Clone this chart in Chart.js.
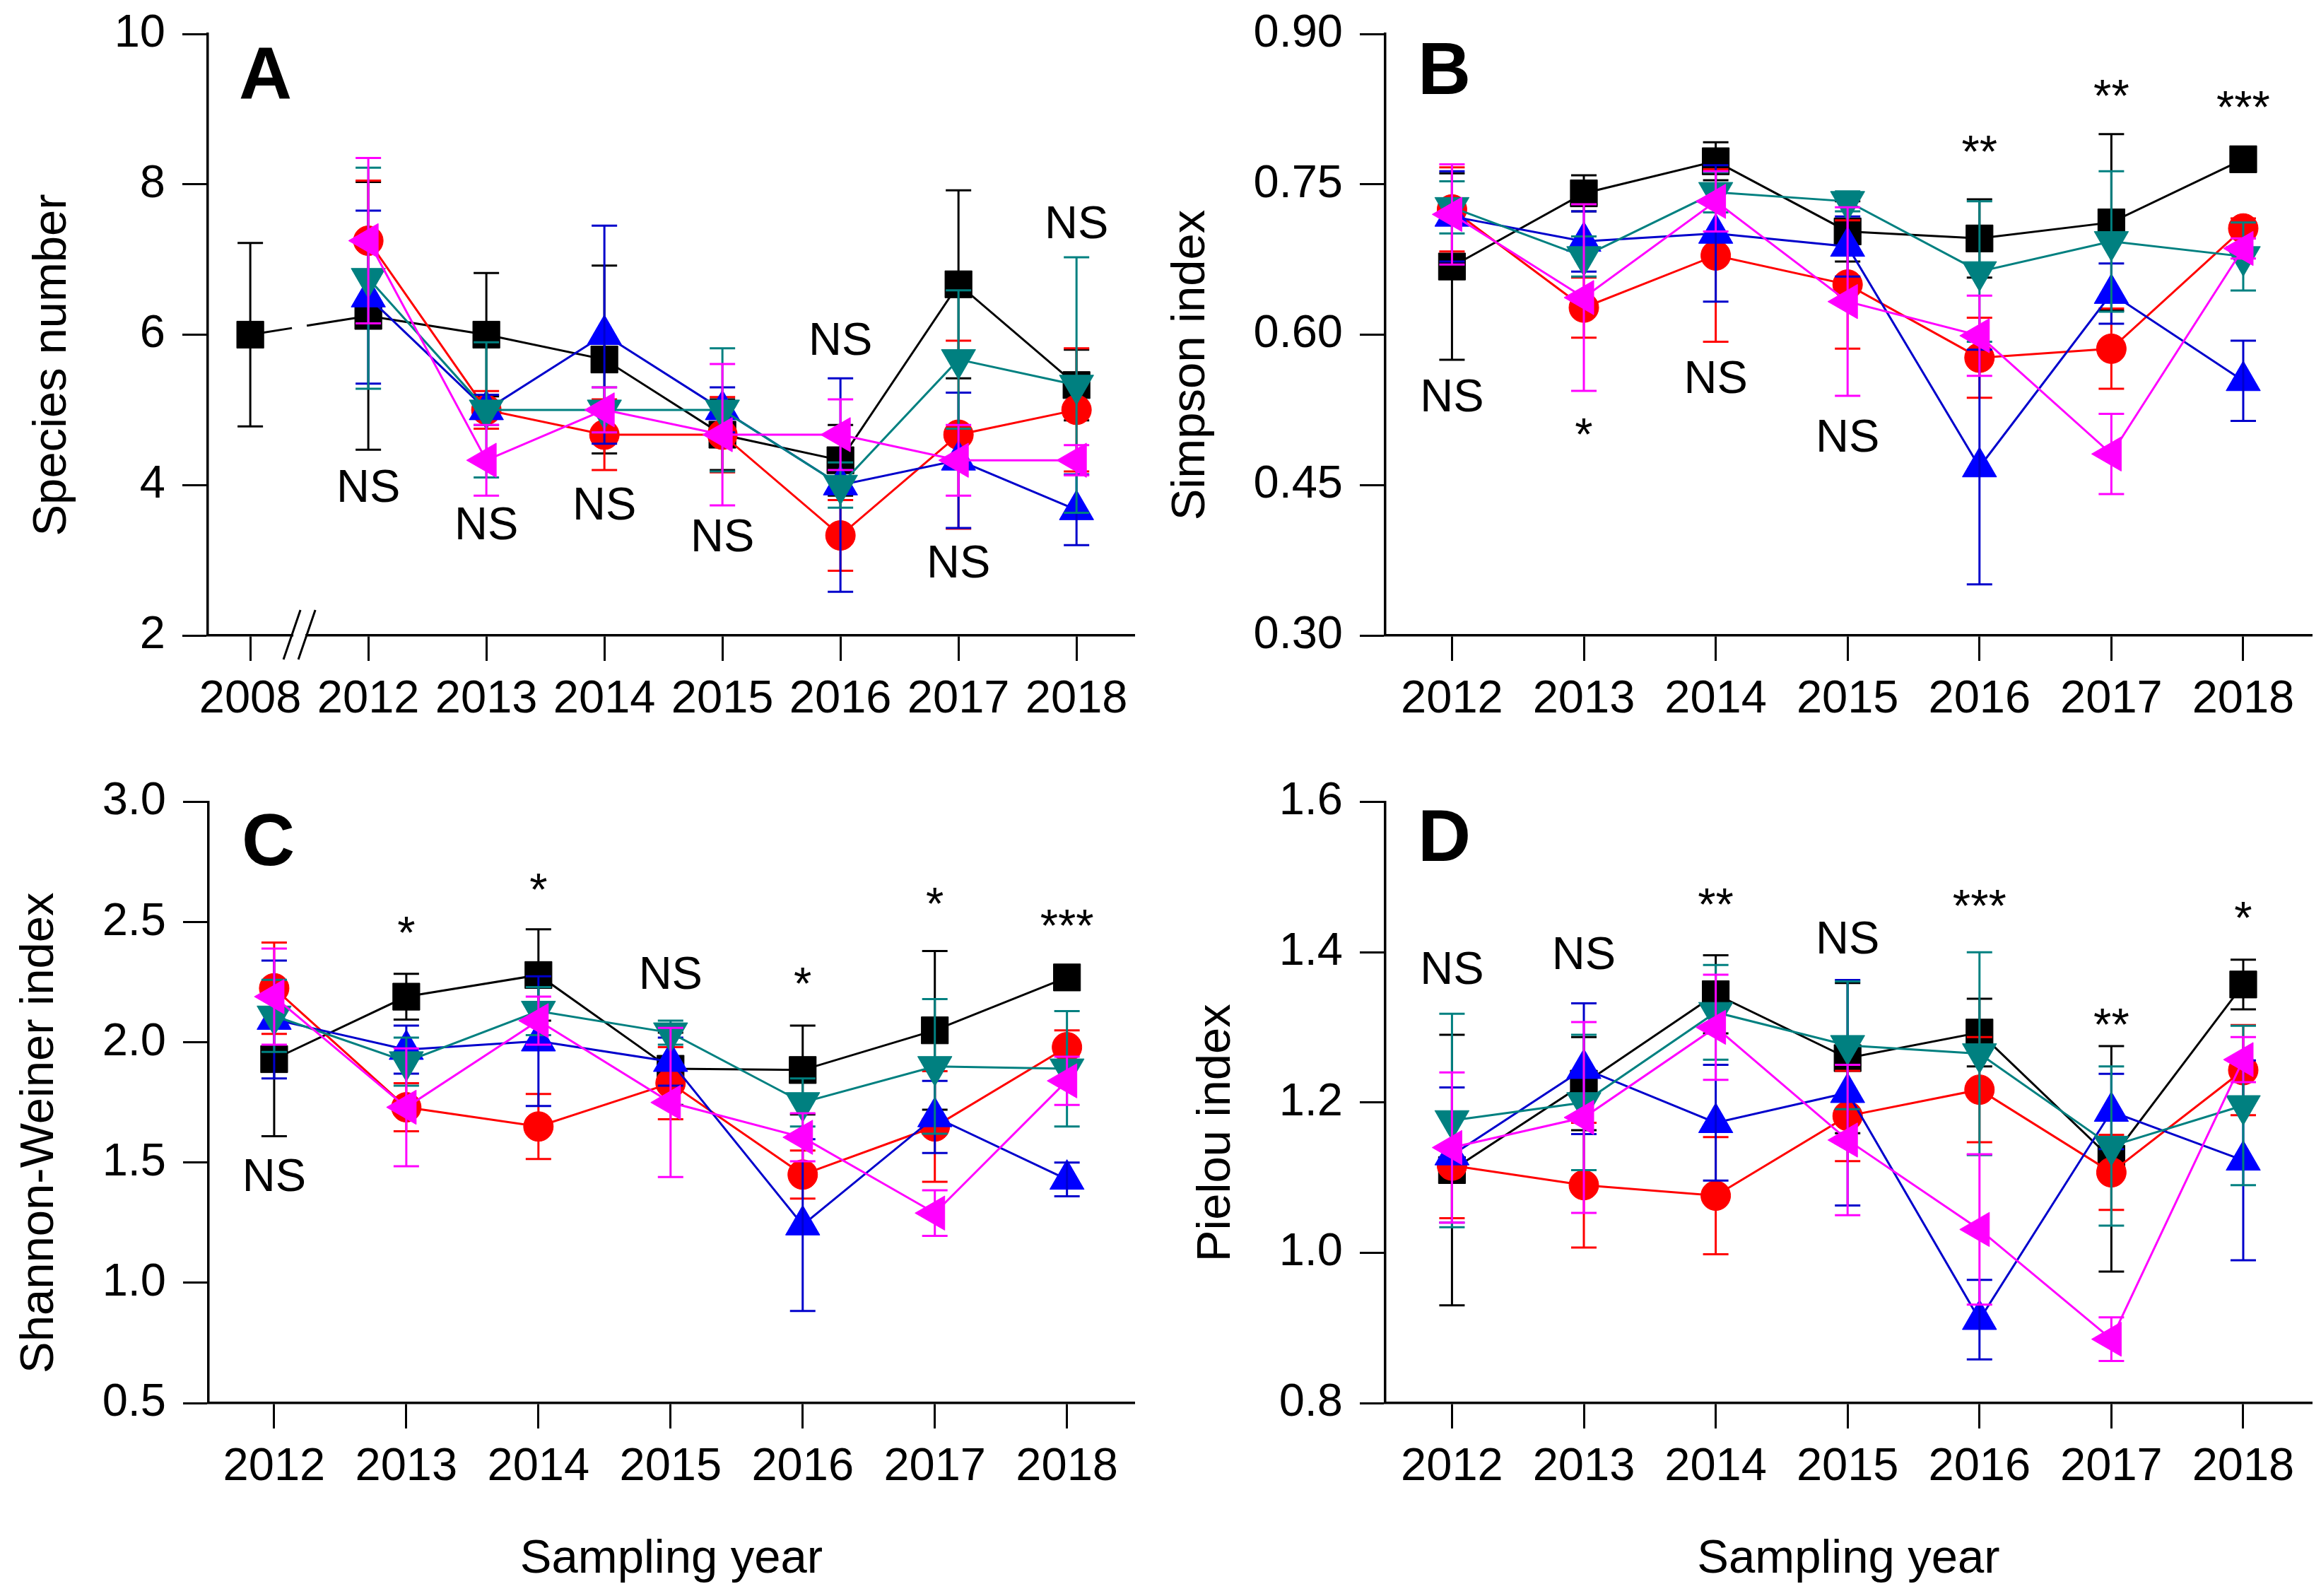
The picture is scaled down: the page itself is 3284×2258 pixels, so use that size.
<!DOCTYPE html>
<html>
<head>
<meta charset="utf-8">
<script src="https://cdn.jsdelivr.net/npm/chart.js@4.4.1/dist/chart.umd.min.js"></script>
<style>
  body { margin: 0; background: #fff; width: 3284px; height: 2258px; position: relative; overflow: hidden; }
  canvas { position: absolute; }
</style>
</head>
<body>
<canvas id="chartA" width="1642" height="1120" style="left:0;top:-20px"></canvas>
<canvas id="chartB" width="1700" height="1120" style="left:1642px;top:-20px"></canvas>
<canvas id="chartC" width="1642" height="1218" style="left:0;top:1040px"></canvas>
<canvas id="chartD" width="1700" height="1218" style="left:1642px;top:1040px"></canvas>
<script>
// Anos de amostragem (eixo x)
const yearsA = ['2008', '2012', '2013', '2014', '2015', '2016', '2017', '2018'];
const years = ['2012', '2013', '2014', '2015', '2016', '2017', '2018'];

const seriesNames = ['Group 1', 'Group 2', 'Group 3', 'Group 4', 'Group 5'];

// A: Species number (média e desvio)
const richnessMean = [
  [6.0, 6.25, 6.0, 5.67, 4.67, 4.33, 6.67, 5.33],
  [null, 7.25, 5.0, 4.67, 4.67, 3.33, 4.67, 5.0],
  [null, 6.5, 5.0, 6.0, 5.0, 4.0, 4.33, 3.67],
  [null, 6.75, 5.0, 5.0, 5.0, 4.0, 5.67, 5.33],
  [null, 7.25, 4.33, 5.0, 4.67, 4.67, 4.33, 4.33]
];
const richnessSd = [
  [1.22, 1.78, 0.82, 1.25, 0.47, 0.47, 1.25, 0.47],
  [null, 0.8, 0.25, 0.47, 0.5, 0.47, 1.25, 0.82],
  [null, 1.15, 0.2, 1.45, 0.3, 1.42, 0.9, 0.47],
  [null, 1.47, 0.9, 0.3, 0.82, 0.3, 0.92, 1.7],
  [null, 1.1, 0.47, 0.3, 0.94, 0.47, 0.47, 0.2]
];
const richnessSig = ['', 'NS', 'NS', 'NS', 'NS', 'NS', 'NS', 'NS'];
const richnessSigAt = [null, 4.0, 3.5, 3.76, 3.34, 5.95, 2.99, 7.5];
const richnessTicks = [2, 4, 6, 8, 10];

// B: Simpson index
const simpsonMean = [
  [0.668, 0.741, 0.773, 0.703, 0.696, 0.712, 0.775],
  [0.725, 0.627, 0.679, 0.650, 0.577, 0.586, 0.706],
  [0.718, 0.693, 0.701, 0.688, 0.468, 0.641, 0.554],
  [0.727, 0.678, 0.742, 0.733, 0.663, 0.693, 0.678],
  [0.720, 0.637, 0.733, 0.633, 0.599, 0.481, 0.686]
];
const simpsonSd = [
  [0.093, 0.018, 0.019, 0.030, 0.039, 0.088, 0.010],
  [0.042, 0.030, 0.086, 0.064, 0.040, 0.040, 0.010],
  [0.045, 0.030, 0.068, 0.030, 0.117, 0.030, 0.040],
  [0.026, 0.020, 0.020, 0.010, 0.070, 0.070, 0.034],
  [0.050, 0.093, 0.030, 0.094, 0.040, 0.040, 0.010]
];
const simpsonSig = ['NS', '*', 'NS', 'NS', '**', '**', '***'];
const simpsonSigAt = [0.540, 0.511, 0.558, 0.500, 0.793, 0.849, 0.838];
const simpsonTicks = [0.30, 0.45, 0.60, 0.75, 0.90];

// C: Shannon-Weiner index
const shannonMean = [
  [1.93, 2.19, 2.28, 1.89, 1.885, 2.05, 2.27],
  [2.225, 1.73, 1.65, 1.83, 1.45, 1.65, 1.98],
  [2.095, 1.97, 2.005, 1.92, 1.24, 1.69, 1.43],
  [2.11, 1.92, 2.13, 2.04, 1.75, 1.90, 1.89],
  [2.19, 1.73, 2.09, 1.75, 1.605, 1.29, 1.84]
];
const shannonSd = [
  [0.32, 0.095, 0.19, 0.15, 0.185, 0.33, 0.03],
  [0.19, 0.10, 0.135, 0.15, 0.10, 0.23, 0.07],
  [0.245, 0.10, 0.27, 0.10, 0.357, 0.15, 0.07],
  [0.15, 0.10, 0.10, 0.05, 0.10, 0.28, 0.24],
  [0.20, 0.245, 0.10, 0.31, 0.10, 0.095, 0.10]
];
const shannonSig = ['NS', '*', '*', 'NS', '*', '*', '***'];
const shannonSigAt = [1.45, 2.50, 2.68, 2.29, 2.29, 2.62, 2.53];
const shannonTicks = [0.5, 1.0, 1.5, 2.0, 2.5, 3.0];

// D: Pielou index
const pielouMean = [
  [1.11, 1.225, 1.344, 1.259, 1.293, 1.125, 1.357],
  [1.116, 1.09, 1.076, 1.182, 1.217, 1.107, 1.243],
  [1.13, 1.245, 1.173, 1.213, 0.911, 1.188, 1.123],
  [1.176, 1.20, 1.32, 1.276, 1.265, 1.142, 1.196],
  [1.14, 1.18, 1.30, 1.15, 1.031, 0.885, 1.257]
];
const pielouSd = [
  [0.18, 0.062, 0.052, 0.10, 0.045, 0.15, 0.033],
  [0.07, 0.083, 0.078, 0.06, 0.07, 0.05, 0.06],
  [0.09, 0.087, 0.077, 0.15, 0.053, 0.05, 0.133],
  [0.142, 0.09, 0.063, 0.085, 0.135, 0.106, 0.106],
  [0.10, 0.127, 0.07, 0.10, 0.10, 0.029, 0.03]
];
const pielouSig = ['NS', 'NS', '**', 'NS', '***', '**', '*'];
const pielouSigAt = [1.38, 1.40, 1.478, 1.42, 1.476, 1.318, 1.46];
const pielouTicks = [0.8, 1.0, 1.2, 1.4, 1.6];

// Estilos das séries
const SERIES_STYLE = [
  { line: '#000000', fill: '#000000', shape: 'rect', radius: 27, rot: 0 },
  { line: '#ff0000', fill: '#ff0000', shape: 'circle', radius: 21, rot: 0 },
  { line: '#0000cc', fill: '#0000ff', shape: 'triangle', radius: 28, rot: 0 },
  { line: '#008080', fill: '#008080', shape: 'triangle', radius: 28, rot: 180 },
  { line: '#ff00ff', fill: '#ff00ff', shape: 'triangle', radius: 28, rot: -90 }
];

const FONT = '"Liberation Sans", Arial, sans-serif';
const AXIS_BREAK = 0.416;   // posição da quebra entre 2008 e 2012
const BREAK_HALF = 0.063;

/**
 * Barras de erro desenhadas depois de cada série
 */
const errorBarPlugin = {
  id: 'errorBars',
  afterDatasetDraw(chart, args) {
    const ds = chart.data.datasets[args.index];
    const { ctx, scales: { x, y } } = chart;
    ctx.save();
    ctx.strokeStyle = ds.borderColor;
    ctx.lineWidth = 3;
    ds.data.forEach(p => {
      if (!p.sd) return;
      const px = x.getPixelForValue(p.x);
      const top = y.getPixelForValue(p.y + p.sd);
      const bot = y.getPixelForValue(p.y - p.sd);
      ctx.beginPath();
      ctx.moveTo(px, top); ctx.lineTo(px, bot);
      ctx.moveTo(px - 18, top); ctx.lineTo(px + 18, top);
      ctx.moveTo(px - 18, bot); ctx.lineTo(px + 18, bot);
      ctx.stroke();
    });
    ctx.restore();
  }
};

/**
 * Textos: significância, letra do painel, título do eixo y e quebra do eixo
 */
const panelTextPlugin = {
  id: 'panelText',
  afterDraw(chart, args, opts) {
    const { ctx, chartArea, scales: { x, y } } = chart;
    ctx.save();
    ctx.fillStyle = '#000';

    ctx.font = `65px ${FONT}`;
    ctx.textAlign = 'center';
    ctx.textBaseline = 'alphabetic';
    opts.labels.forEach((t, i) => {
      if (!t) return;
      const px = x.getPixelForValue(i);
      const py = y.getPixelForValue(opts.at[i]);
      const shift = t.includes('*') ? 0.58 : 0.36;
      ctx.fillText(t, px, py + shift * 65);
    });

    ctx.font = `bold 104px ${FONT}`;
    ctx.textAlign = 'left';
    ctx.fillText(opts.letter, chartArea.left + opts.letterDx, chartArea.top + opts.letterDy + 75);

    ctx.font = `67px ${FONT}`;
    ctx.textAlign = 'center';
    ctx.textBaseline = 'middle';
    ctx.translate(opts.titleX, (chartArea.top + chartArea.bottom) / 2 + opts.titleDy);
    ctx.rotate(-Math.PI / 2);
    ctx.fillText(opts.title, 0, 0);
    ctx.setTransform(1, 0, 0, 1, 0, 0);

    if (opts.axisBreak) {
      const ay = chartArea.bottom;
      const x1 = x.getPixelForValue(AXIS_BREAK - BREAK_HALF);
      const x2 = x.getPixelForValue(AXIS_BREAK + BREAK_HALF);
      ctx.fillStyle = '#fff';
      ctx.fillRect(x1 + 2, ay - 4, x2 - x1 - 4, 8);
      ctx.strokeStyle = '#000';
      ctx.lineWidth = 3;
      ctx.beginPath();
      [x1, x2].forEach(bx => {
        ctx.moveTo(bx + 12, ay - 36);
        ctx.lineTo(bx - 12, ay + 34);
      });
      ctx.stroke();
    }
    ctx.restore();
  }
};

function makeDatasets(means, sds, withBreak) {
  return means.map((vals, s) => {
    const st = SERIES_STYLE[s];
    const pts = [];
    vals.forEach((v, i) => {
      if (v !== null) pts.push({ x: i, y: v, sd: sds[s][i] });
    });
    const ds = {
      label: seriesNames[s],
      data: pts,
      borderColor: st.line,
      backgroundColor: st.fill,
      borderWidth: 3,
      pointStyle: st.shape,
      pointRadius: st.radius,
      pointRotation: st.rot,
      pointBackgroundColor: st.fill,
      pointBorderColor: st.fill,
      pointBorderWidth: 1,
      tension: 0,
      fill: false,
      order: SERIES_STYLE.length - s
    };
    if (withBreak && s === 0) {
      // linha 2008-2012 interrompida na quebra do eixo
      ds.segment = {
        borderDash: c => {
          if (c.p0DataIndex !== 0) return undefined;
          const len = Math.hypot(c.p1.x - c.p0.x, c.p1.y - c.p0.y);
          return [len * (AXIS_BREAK - BREAK_HALF), len * 2 * BREAK_HALF, len];
        }
      };
    }
    return ds;
  });
}

function criarPainel(id, cfg) {
  const ctx = document.getElementById(id).getContext('2d');
  return new Chart(ctx, {
    type: 'line',
    data: { datasets: makeDatasets(cfg.means, cfg.sds, cfg.axisBreak) },
    plugins: [errorBarPlugin, panelTextPlugin],
    options: {
      responsive: false,
      devicePixelRatio: 1,
      animation: false,
      layout: { padding: cfg.padding },
      plugins: {
        legend: { display: false },
        tooltip: { enabled: false },
        panelText: {
          labels: cfg.sig, at: cfg.sigAt, letter: cfg.letter,
          letterDx: cfg.letterDx, letterDy: cfg.letterDy,
          title: cfg.yTitle, titleX: cfg.titleX, titleDy: cfg.titleDy,
          axisBreak: cfg.axisBreak
        }
      },
      scales: {
        x: {
          type: 'linear',
          min: cfg.xMin,
          max: cfg.xMax,
          afterBuildTicks: s => { s.ticks = cfg.years.map((_, i) => ({ value: i })); },
          afterFit: s => { s.height = cfg.xHeight; },
          ticks: {
            callback: v => cfg.years[v],
            autoSkip: false,
            maxRotation: 0,
            padding: 16,
            color: '#000',
            font: { size: 65, family: FONT }
          },
          grid: { drawOnChartArea: false, drawTicks: true, tickLength: 36, tickWidth: 3, tickColor: '#000' },
          border: { display: true, color: '#000', width: 3.5 },
          title: {
            display: !!cfg.xTitle,
            text: cfg.xTitle || '',
            color: '#000',
            font: { size: 67, family: FONT },
            padding: { top: 0, bottom: 11 }
          }
        },
        y: {
          type: 'linear',
          min: cfg.yTicks[0],
          max: cfg.yTicks[cfg.yTicks.length - 1],
          afterBuildTicks: s => { s.ticks = cfg.yTicks.map(v => ({ value: v })); },
          afterFit: s => { s.width = cfg.yWidth; },
          ticks: {
            callback: v => v.toFixed(cfg.decimals),
            padding: 24,
            color: '#000',
            font: { size: 65, family: FONT }
          },
          grid: { drawOnChartArea: false, drawTicks: true, tickLength: 36, tickWidth: 3, tickColor: '#000' },
          border: { display: true, color: '#000', width: 3.5 }
        }
      }
    }
  });
}

criarPainel('chartA', {
  means: richnessMean, sds: richnessSd, sig: richnessSig, sigAt: richnessSigAt,
  years: yearsA, yTicks: richnessTicks, decimals: 0, xMin: -0.36, xMax: 7.49,
  padding: { top: 68, right: 37, bottom: 51, left: 0 }, yWidth: 294, xHeight: 150,
  letter: 'A', letterDx: 44, letterDy: 16, yTitle: 'Species number', titleX: 75, titleDy: 43,
  axisBreak: true
});

criarPainel('chartB', {
  means: simpsonMean, sds: simpsonSd, sig: simpsonSig, sigAt: simpsonSigAt,
  years: years, yTicks: simpsonTicks, decimals: 2, xMin: -0.506, xMax: 6.52,
  padding: { top: 68, right: 71, bottom: 51, left: 0 }, yWidth: 318, xHeight: 150,
  letter: 'B', letterDx: 46, letterDy: 10, yTitle: 'Simpson index', titleX: 44, titleDy: 43
});

criarPainel('chartC', {
  means: shannonMean, sds: shannonSd, sig: shannonSig, sigAt: shannonSigAt,
  years: years, yTicks: shannonTicks, decimals: 1, xMin: -0.497, xMax: 6.51,
  padding: { top: 94.5, right: 37, bottom: 0, left: 0 }, yWidth: 295, xHeight: 273,
  letter: 'C', letterDx: 47, letterDy: 14, yTitle: 'Shannon-Weiner index', titleX: 57, titleDy: 43,
  xTitle: 'Sampling year'
});

criarPainel('chartD', {
  means: pielouMean, sds: pielouSd, sig: pielouSig, sigAt: pielouSigAt,
  years: years, yTicks: pielouTicks, decimals: 1, xMin: -0.506, xMax: 6.52,
  padding: { top: 94.5, right: 71, bottom: 0, left: 0 }, yWidth: 318, xHeight: 273,
  letter: 'D', letterDx: 46, letterDy: 8, yTitle: 'Pielou index', titleX: 80, titleDy: 43,
  xTitle: 'Sampling year'
});
</script>
</body>
</html>
